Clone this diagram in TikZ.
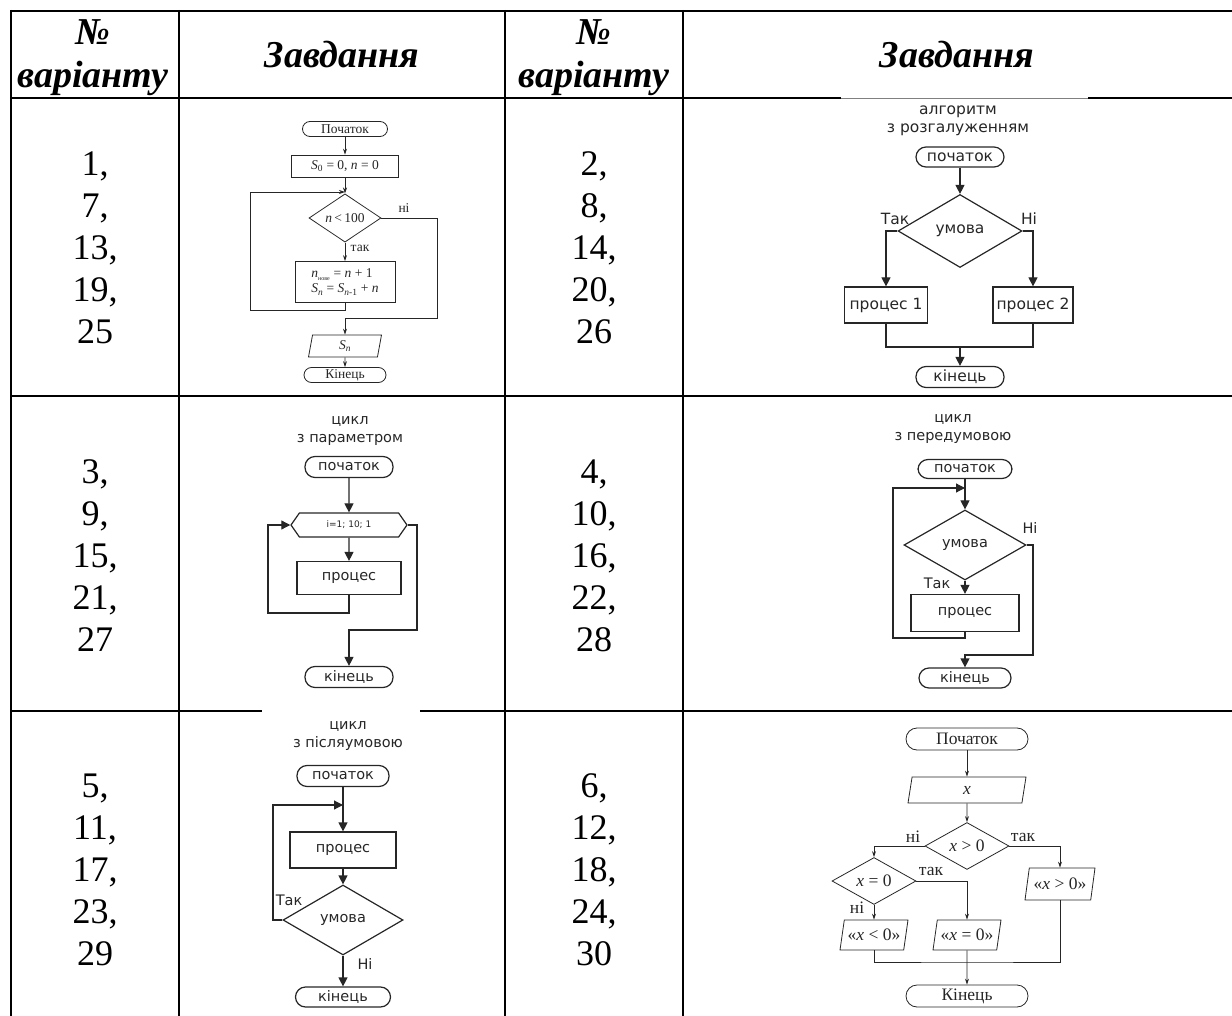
\documentclass[tikz,border=0pt]{standalone}
\usepackage{fontspec}
\setmainfont{Liberation Serif}
\newfontfamily\sansf{DejaVu Sans}
\usetikzlibrary{arrows.meta,shapes.geometric,shapes.symbols}

\tikzset{
  tabline/.style={line width=2pt},
  hdr/.style={font=\fontsize{38}{43}\selectfont\bfseries\itshape, align=center},
  nums/.style={font=\fontsize{36}{42}\selectfont, align=center},
  % sans flowcharts
  fc/.style={font=\sansf\fontsize{14.5}{18}\selectfont, line width=1.2pt, color=black!85},
  tri/.style={-{Triangle[length=9pt,width=9pt]}},
  % serif flowcharts
  fcs/.style={line width=0.8pt, color=black!85},
  sarr/.style={-{Stealth[length=6pt,width=4pt]}},
  term/.style={draw, rounded corners=10pt, inner sep=0pt},
  proc/.style={draw, rectangle, inner sep=0pt},
  dia/.style={draw, diamond, inner sep=0pt},
  io/.style={draw, trapezium, trapezium left angle=70, trapezium right angle=110,
    trapezium stretches body=true, inner sep=0pt},
  hex/.style={draw, signal, signal to=west and east, signal pointer angle=110, inner sep=0pt}
}

\begin{document}
\begin{tikzpicture}[x=1pt, y=-1pt]
\useasboundingbox (0,0) rectangle (1232,1016);

% table rules
\draw[tabline] (10,11) -- (1232,11);
\draw[tabline] (10,98) -- (841,98);
\draw[line width=0.6pt, black!50] (841,98) -- (1088,98);
\draw[tabline] (1088,98) -- (1232,98);
\draw[tabline] (10,396) -- (1232,396);
\draw[tabline] (10,711) -- (262,711);
\draw[tabline] (420,711) -- (1232,711);
\foreach \cx in {11,179,505,683}
  \draw[tabline] (\cx,10) -- (\cx,1016);

% header
\node[hdr] (h1) at (93,58) {№\\варіанту};
\node[hdr] (h2) at (342,55) {Завдання};
\node[hdr] (h3) at (594,58) {№\\варіанту};
\node[hdr] (h4) at (957,55) {Завдання};

% variant numbers
\node[nums] (v1) at (95,248) {1,\\7,\\13,\\19,\\25};
\node[nums] (v2) at (594,248) {2,\\8,\\14,\\20,\\26};
\node[nums] (v3) at (95,556) {3,\\9,\\15,\\21,\\27};
\node[nums] (v4) at (594,556) {4,\\10,\\16,\\22,\\28};
\node[nums] (v5) at (95,870) {5,\\11,\\17,\\23,\\29};
\node[nums] (v6) at (594,870) {6,\\12,\\18,\\24,\\30};

% chart 1: sum loop
\begin{scope}[fcs, font=\fontsize{13.5}{15}\selectfont]
  \node[term, rounded corners=7.5pt, minimum width=85pt, minimum height=15pt] (b1) at (345,129) {Початок};
  \node[proc, minimum width=107pt, minimum height=22pt] (i1) at (345,166) {\textit{S}\textsubscript{0} = 0,\ \textit{n} = 0};
  \coordinate (j1) at (345,192);
  \node[dia, minimum width=72pt, minimum height=31pt] (c1) at (345,218) {\textit{n}\,<\,100};
  \node[proc, minimum width=100pt, minimum height=41pt, align=left] (p1) at (345,282)
    {\textit{n}\textsubscript{\fontsize{6}{6}\selectfont нове} = \textit{n} + 1\\\textit{S}\textsubscript{\textit{n}} = \textit{S}\textsubscript{\textit{n}-1} + \textit{n}};
  \node[io, minimum width=73pt, minimum height=22pt] (o1) at (345,346) {\textit{S}\textsubscript{\textit{n}}};
  \node[term, rounded corners=7.5pt, minimum width=82pt, minimum height=15pt] (e1) at (345,375) {Кінець};
  \draw[sarr] (b1) -- (i1);
  \draw[sarr] (i1) -- (c1);
  \draw[sarr] (c1) -- (p1);
  \draw[sarr] (p1.south) |- (250,310) |- (j1);
  \draw[sarr] (c1.east) -| (437,318) -| (o1.north);
  \draw[sarr] (o1) -- (e1);
  \node (n1) at (404,208) {ні};
  \node[right] (y1) at (347,248) {так};
\end{scope}

% chart 2: branching
\begin{scope}[fc, font=\sansf\fontsize{15.5}{18}\selectfont]
  \node[align=center] (t2) at (958,121) {алгоритм\\з розгалуженням};
  \node[term, minimum width=88pt, minimum height=20pt] (b2) at (960,157) {початок};
  \node[dia, minimum width=124pt, minimum height=73pt] (c2) at (960,231) {умова};
  \node[proc, minimum width=83pt, minimum height=36pt] (p2a) at (886,305) {процес 1};
  \node[proc, minimum width=80pt, minimum height=36pt] (p2b) at (1033,305) {процес 2};
  \coordinate (m2) at (960,347);
  \node[term, minimum width=88pt, minimum height=21pt] (e2) at (960,377) {кінець};
  \draw[tri] (b2) -- (c2);
  \draw[tri] (c2.west) -| (p2a.north);
  \draw[tri] (c2.east) -| (p2b.north);
  \draw (p2a.south) |- (m2) -| (p2b.south);
  \draw[tri] (m2) -- (e2);
  \node (y2) at (895,219) {Так};
  \node (n2) at (1029,219) {Ні};
\end{scope}

% chart 3: loop with parameter
\begin{scope}[fc]
  \node[align=center] (t3) at (350,431) {цикл\\з параметром};
  \node[term, minimum width=88pt, minimum height=21pt] (b3) at (349,467) {початок};
  \node[hex, minimum width=116pt, minimum height=24pt, font=\sansf\fontsize{9}{10}\selectfont] (h3) at (349,525) {i=1; 10; 1};
  \node[proc, minimum width=104pt, minimum height=33pt] (p3) at (349,578) {процес};
  \node[term, minimum width=88pt, minimum height=21pt] (e3) at (349,677) {кінець};
  \draw[tri] (b3) -- (h3);
  \draw[tri] (h3) -- (p3);
  \draw[tri] (p3.south) |- (268,613) |- (h3.west);
  \draw[tri] (h3.east) -| (417,630) -| (e3.north);
\end{scope}

% chart 4: loop with precondition
\begin{scope}[fc]
  \node[align=center] (t4) at (953,429) {цикл\\з передумовою};
  \node[term, minimum width=94pt, minimum height=19pt] (b4) at (965,469) {початок};
  \coordinate (j4) at (965,488);
  \node[dia, minimum width=122pt, minimum height=70pt] (c4) at (965,545) {умова};
  \node[proc, minimum width=108pt, minimum height=37pt] (p4) at (965,613) {процес};
  \node[term, minimum width=92pt, minimum height=20pt] (e4) at (965,678) {кінець};
  \draw[tri] (b4) -- (c4);
  \draw[tri] (c4) -- (p4);
  \draw[tri] (p4.south) |- (893,638) |- (j4);
  \draw[tri] (c4.east) -| (1033,655) -| (e4.north);
  \node (n4) at (1030,528) {Ні};
  \node (y4) at (937,583) {Так};
\end{scope}

% chart 5: loop with postcondition
\begin{scope}[fc]
  \node[align=center] (t5) at (348,736) {цикл\\з післяумовою};
  \node[term, minimum width=92pt, minimum height=21pt] (b5) at (343,776) {початок};
  \coordinate (j5) at (343,805);
  \node[proc, minimum width=106pt, minimum height=36pt] (p5) at (343,850) {процес};
  \node[dia, minimum width=120pt, minimum height=70pt] (c5) at (343,920) {умова};
  \node[term, minimum width=95pt, minimum height=20pt] (e5) at (343,997) {кінець};
  \draw[tri] (b5) -- (p5);
  \draw[tri] (p5) -- (c5);
  \draw[tri] (c5.west) -| (273,805) -- (j5);
  \draw[tri] (c5) -- (e5);
  \node (y5) at (289,900) {Так};
  \node (n5) at (365,964) {Ні};
\end{scope}

% chart 6: sign of x
\begin{scope}[fcs, font=\fontsize{17.5}{19}\selectfont]
  \node[term, rounded corners=11pt, minimum width=122pt, minimum height=22pt] (b6) at (967,739) {Початок};
  \node[io, trapezium left angle=63, trapezium right angle=117, minimum width=118pt, minimum height=26pt] (x6) at (967,790) {\textit{x}};
  \node[dia, minimum width=84pt, minimum height=37pt] (c6) at (967,846) {\textit{x} > 0};
  \node[dia, minimum width=84pt, minimum height=36pt] (d6) at (874,881) {\textit{x} = 0};
  \node[io, minimum width=68pt, minimum height=30pt] (n6) at (874,935) {«\textit{x} < 0»};
  \node[io, minimum width=68pt, minimum height=30pt] (z6) at (967,935) {«\textit{x} = 0»};
  \node[io, minimum width=70pt, minimum height=32pt] (g6) at (1060,884) {«\textit{x} > 0»};
  \coordinate (m6) at (967,962);
  \node[term, rounded corners=11pt, minimum width=122pt, minimum height=22pt] (e6) at (967,996) {Кінець};
  \draw[sarr] (b6) -- (x6);
  \draw[sarr] (x6) -- (c6);
  \draw[sarr] (c6.west) -| (d6.north);
  \draw[sarr] (c6.east) -| (g6.north);
  \draw[sarr] (d6.east) -| (z6.north);
  \draw[sarr] (d6) -- (n6);
  \draw (n6.south) |- (m6) -| (g6.south);
  \draw[sarr] (z6) -- (e6);
  \node (n6a) at (913,837) {ні};
  \node (y6a) at (1023,837) {так};
  \node (y6b) at (931,871) {так};
  \node (n6b) at (857,908) {ні};
\end{scope}
\end{tikzpicture}
\end{document}
